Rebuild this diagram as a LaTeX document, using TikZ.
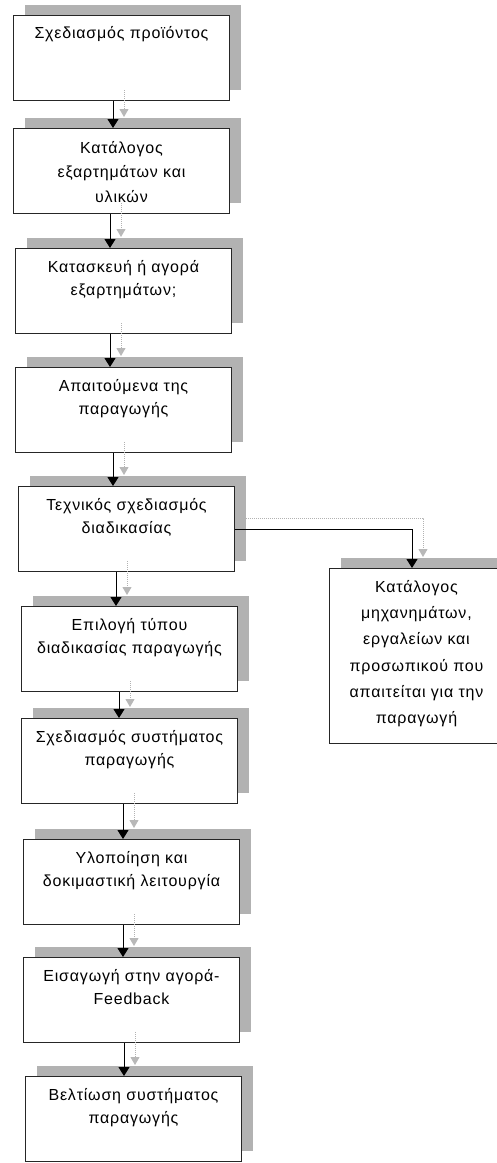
\documentclass[tikz,border=0pt]{standalone}
\usepackage{fontspec}
\setmainfont{Liberation Sans}[LetterSpace=5]
\usetikzlibrary{positioning,shadows,arrows.meta}
\begin{document}
\begin{tikzpicture}[x=1pt,y=-1pt,
    stepbox/.style={draw=black!85,line width=1pt,fill=white,minimum width=216pt,minimum height=85pt,inner sep=0pt,
      drop shadow={shadow xshift=11pt,shadow yshift=11pt,fill=black!30,opacity=1}},
    steptext/.style={align=center,inner sep=0pt,font=\fontsize{16}{23}\selectfont},
    arr/.style={line width=1pt,-{Triangle[length=9pt,width=11pt]},
      preaction={draw=black!30,densely dotted,line width=1pt,-{Triangle[length=8pt,width=9pt,color=black!28]},
        transform canvas={xshift=11pt,yshift=11pt}}}]
  \useasboundingbox (0,0) rectangle (496,1163);
  \node[stepbox,anchor=north west] (b1) at (13,15) {};
  \node[stepbox,anchor=north west] (b2) at (13,128) {};
  \node[stepbox,anchor=north west] (b3) at (15,248) {};
  \node[stepbox,anchor=north west] (b4) at (15,367) {};
  \node[stepbox,anchor=north west] (b5) at (18,486) {};
  \node[stepbox,anchor=north west] (b6) at (21,606) {};
  \node[stepbox,anchor=north west] (b7) at (21,718) {};
  \node[stepbox,anchor=north west] (b8) at (23,839) {};
  \node[stepbox,anchor=north west] (b9) at (23,957) {};
  \node[stepbox,anchor=north west] (b10) at (25,1076) {};
  \node[stepbox,anchor=north west,minimum width=174pt,minimum height=175pt] (r) at (329,568) {};
  \node[steptext,below=11pt of b1.north] (t1) {Σχεδιασμός προϊόντος};
  \node[steptext,below=13pt of b2.north,font=\fontsize{16}{24.5}\selectfont] (t2) {Κατάλογος\\εξαρτημάτων και\\υλικών};
  \node[steptext,below=12pt of b3.north] (t3) {Κατασκευή ή αγορά\\εξαρτημάτων;};
  \node[steptext,below=12pt of b4.north] (t4) {Απαιτούμενα της\\παραγωγής};
  \node[steptext,below=12pt of b5.north] (t5) {Τεχνικός σχεδιασμός\\διαδικασίας};
  \node[steptext,below=12pt of b6.north] (t6) {Επιλογή τύπου\\διαδικασίας παραγωγής};
  \node[steptext,below=12pt of b7.north] (t7) {Σχεδιασμός συστήματος\\παραγωγής};
  \node[steptext,below=12pt of b8.north] (t8) {Υλοποίηση και\\δοκιμαστική λειτουργία};
  \node[steptext,below=12pt of b9.north] (t9) {Εισαγωγή στην αγορά-\\Feedback};
  \node[steptext,below=12pt of b10.north] (t10) {Βελτίωση συστήματος\\παραγωγής};
  \node[steptext,below=12pt of r.north,font=\fontsize{16}{26.3}\selectfont] (tr) {Κατάλογος\\μηχανημάτων,\\εργαλείων και\\προσωπικού που\\απαιτείται για την\\παραγωγή};
  \draw[arr] (113,0 |- b1.south) -- (113,0 |- b2.north);
  \draw[arr] (110,0 |- b2.south) -- (110,0 |- b3.north);
  \draw[arr] (110,0 |- b3.south) -- (110,0 |- b4.north);
  \draw[arr] (113,0 |- b4.south) -- (113,0 |- b5.north);
  \draw[arr] (116,0 |- b5.south) -- (116,0 |- b6.north);
  \draw[arr] (119,0 |- b6.south) -- (119,0 |- b7.north);
  \draw[arr] (123,0 |- b7.south) -- (123,0 |- b8.north);
  \draw[arr] (123,0 |- b8.south) -- (123,0 |- b9.north);
  \draw[arr] (124,0 |- b9.south) -- (124,0 |- b10.north);
  \draw[arr] (b5.east) -| (412,0 |- r.north);
\end{tikzpicture}
\end{document}
